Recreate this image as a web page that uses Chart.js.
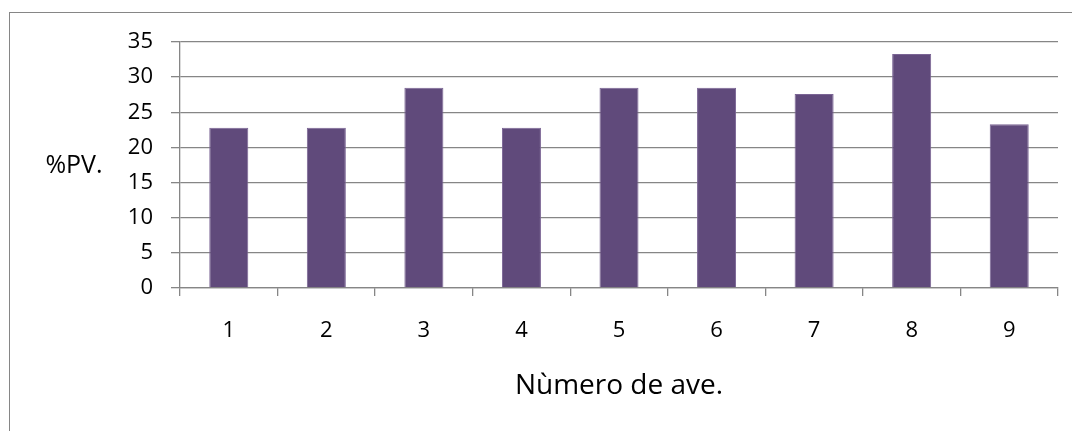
<!DOCTYPE html>
<html><head><meta charset="utf-8">
<script src="https://cdn.jsdelivr.net/npm/chart.js@4/dist/chart.umd.min.js"></script>
<style>html,body{margin:0;padding:0;background:#fff}#wrap{width:1072px;height:431px}</style>
</head><body><div id="wrap"><canvas id="c" width="1072" height="431"></canvas></div>
<script>
const categories = ["1","2","3","4","5","6","7","8","9"];
const values = [22.8, 22.8, 28.5, 22.8, 28.5, 28.5, 27.6, 33.3, 23.3];
const yTitle = "%PV.";
const xTitle = "Nùmero de ave.";
const FONT = "'Open Sans', sans-serif";

const deco = {
  id: 'deco',
  beforeDraw(chart) {
    const ctx = chart.ctx;
    ctx.save();
    ctx.fillStyle = '#fff';
    ctx.fillRect(0, 0, chart.width, chart.height);
    ctx.strokeStyle = '#868686';
    ctx.lineWidth = 1;
    ctx.strokeRect(9.5, 12.5, 1100, 500);
    ctx.restore();
  },
  afterDraw(chart) {
    const ctx = chart.ctx, a = chart.chartArea;
    ctx.save();
    ctx.fillStyle = '#000';
    ctx.textAlign = 'center';
    ctx.textBaseline = 'middle';
    ctx.font = "25px " + FONT;
    ctx.fillText(yTitle, 74, 166);
    ctx.font = "28px " + FONT;
    ctx.fillText(xTitle, (a.left + a.right) / 2, 386);
    ctx.restore();
  }
};

new Chart(document.getElementById('c'), {
  type: 'bar',
  data: { labels: categories, datasets: [{ data: values, backgroundColor: '#604A7B', borderColor: '#7A6494', borderWidth: 1, barPercentage: 0.4, categoryPercentage: 1.0 }] },
  options: {
    responsive: false, animation: false,
    layout: { padding: { left: 0, right: 14, top: 42, bottom: 0 } },
    plugins: { legend: { display: false }, tooltip: { enabled: false } },
    scales: {
      y: {
        min: 0, max: 35,
        ticks: { stepSize: 5, color: '#000', font: { family: FONT, size: 22 }, padding: 18 },
        grid: { color: '#868686', lineWidth: 1.3, tickLength: 9 },
        border: { color: '#868686', width: 1.3 },
        afterFit(s) { s.width = 180; }
      },
      x: {
        ticks: { color: '#000', font: { family: FONT, size: 22 }, padding: 22 },
        grid: { offset: true, drawOnChartArea: false, color: '#868686', lineWidth: 1.3, tickLength: 8 },
        border: { color: '#868686', width: 1.3 },
        afterFit(s) { s.height = 143; }
      }
    }
  },
  plugins: [deco]
});
</script></body></html>
